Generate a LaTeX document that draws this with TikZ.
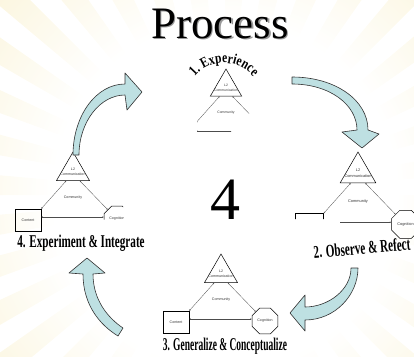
\documentclass[tikz,border=0pt]{standalone}
\usepackage{fontspec}
\setmainfont{Liberation Serif}
\setsansfont{Liberation Sans}
\newfontfamily\wordfont[FakeStretch=0.62]{Liberation Serif}
\newfontfamily\arcfont[FakeStretch=0.8]{Liberation Serif}
\usetikzlibrary{shapes.geometric,arrows.meta,calc,decorations.text}
\definecolor{arrowfill}{RGB}{190,224,226}
\definecolor{sunray}{RGB}{251,245,220}
\pgfdeclareradialshading{sunburst}{\pgfpoint{0bp}{0bp}}{color(0bp)=(white); color(13bp)=(white); color(24bp)=(sunray); color(36bp)=(sunray!50!white); color(46bp)=(white); color(50bp)=(white)}

\tikzset{
  tri/.style={draw, line width=0.5pt, regular polygon, regular polygon sides=3, minimum size=38pt, inner sep=0pt},
  tinytext/.style={font=\sffamily\fontsize{3.6}{4}\selectfont, text=black!80, inner sep=0pt},
  contentbox/.style={tinytext, draw, line width=0.5pt, minimum width=26pt, minimum height=22pt},
  octbox/.style={tinytext, draw, line width=0.5pt, regular polygon, regular polygon sides=8, minimum size=28pt},
  link/.style={black!70, line width=0.3pt, {Stealth[length=1.6pt,width=1.4pt]}-{Stealth[length=1.6pt,width=1.4pt]}},
  cyclearrow/.style={fill=arrowfill, draw=black!80, line width=0.6pt, line join=round},
  steplabel/.style={font=\wordfont\bfseries\fontsize{18}{18}\selectfont, inner sep=0pt}
}

% one copy of the L2 model, apex at (#2,#3)
\newcommand\learnmodel[4]{%
  \begin{scope}[shift={(#2,#3)}, scale=#4, transform shape]
    \node[tri] (#1t) at (0,19) {};
    \node[tinytext] (#1l) at (0,17) {L2};
    \node[tinytext] (#1c) at (0,22.5) {Communication};
    \node[tinytext] (#1y) at (0,46) {Community};
    \node[contentbox] (#1n) at (-45,68) {Content};
    \node[octbox] (#1g) at (44,67) {Cognition};
    \draw[link] (#1n.north east) -- ($(#1t.corner 2)!.3!(#1t.corner 3)$);
    \draw[link] ($(#1t.corner 2)!.7!(#1t.corner 3)$) -- (#1g.north west);
    \draw[link] ([yshift=3pt]#1n.east) -- ([yshift=3pt]#1n.east -| #1g.west);
  \end{scope}}

\begin{document}
\begin{tikzpicture}[x=1pt,y=-1pt]
\useasboundingbox (0,0) rectangle (414,356);

% sun rays
\begin{scope}
  \clip \foreach \a in {0,10,...,350} {(225,195) -- +(\a:330) -- +(\a+5:330) -- cycle};
  \shade[shading=sunburst] (225,195) circle (330);
\end{scope}

\node[font=\fontsize{45}{45}\selectfont, text=black!40, anchor=base] (titleshadow) at (221.5,39.5) {Process};
\node[font=\fontsize{45}{45}\selectfont, anchor=base] (title) at (220,38) {Process};
\node[font=\fontsize{60}{60}\selectfont, inner sep=0pt] (num) at (225,200) {4};

% the four models
\begin{scope}
  \clip (197,50) rectangle (249,130) (197,129) rectangle (231,140);
  \learnmodel{e}{226}{69}{0.95}
\end{scope}
\begin{scope}
  \clip (280,140) -- (414,140) -- (414,262) -- (340,262) -- (340,219) -- (280,219) -- cycle;
  \learnmodel{o}{358}{152}{1.08}
\end{scope}
\begin{scope}
  \clip (0,140) -- (165,140) -- (165,200) -- (123,200) -- (123,219.5) -- (100,219.5) -- (100,240) -- (0,240) -- cycle;
  \learnmodel{x}{73}{152}{1}
\end{scope}
\learnmodel{g}{221}{254}{1}

% cycle arrows
\draw[cyclearrow] (73,155) .. controls (73,116) and (96,84) .. (125,84) -- (125,73) -- (142,92) -- (127,110) -- (125,95) .. controls (100,95) and (79,122) .. (79,155) -- cycle;
\draw[cyclearrow] (292,77) .. controls (335,77) and (368,100) .. (368,130) -- (379,134) -- (362,148) -- (342,132) -- (357,130) .. controls (357,105) and (330,84) .. (292,84) -- cycle;
\draw[cyclearrow] (358,268) .. controls (358,295) and (335,320) .. (305,320) -- (305,331) -- (290,313) -- (305,295) -- (305,307) .. controls (328,307) and (351,290) .. (351,268) -- cycle;
\draw[cyclearrow] (83,274) .. controls (83,305) and (100,325) .. (118,336) -- (123,328) .. controls (108,318) and (93,300) .. (93,274) -- (105,273) -- (87,258) -- (69,273) -- cycle;

% step labels
\path[decorate, decoration={text along path, text align=center,
  text={|\arcfont\bfseries\fontsize{14.5}{14.5}\selectfont|1. Experience}}]
  (224,101) ++(208:38) arc[start angle=208, end angle=332, radius=38];
\node[steplabel, rotate=5] (lab2) at (362,248) {2. Observe \& Refect};
\node[steplabel, xscale=0.85] (lab3) at (225,346) {3. Generalize \& Conceptualize};
\node[steplabel] (lab4) at (81,243) {4. Experiment \& Integrate};
\end{tikzpicture}
\end{document}
